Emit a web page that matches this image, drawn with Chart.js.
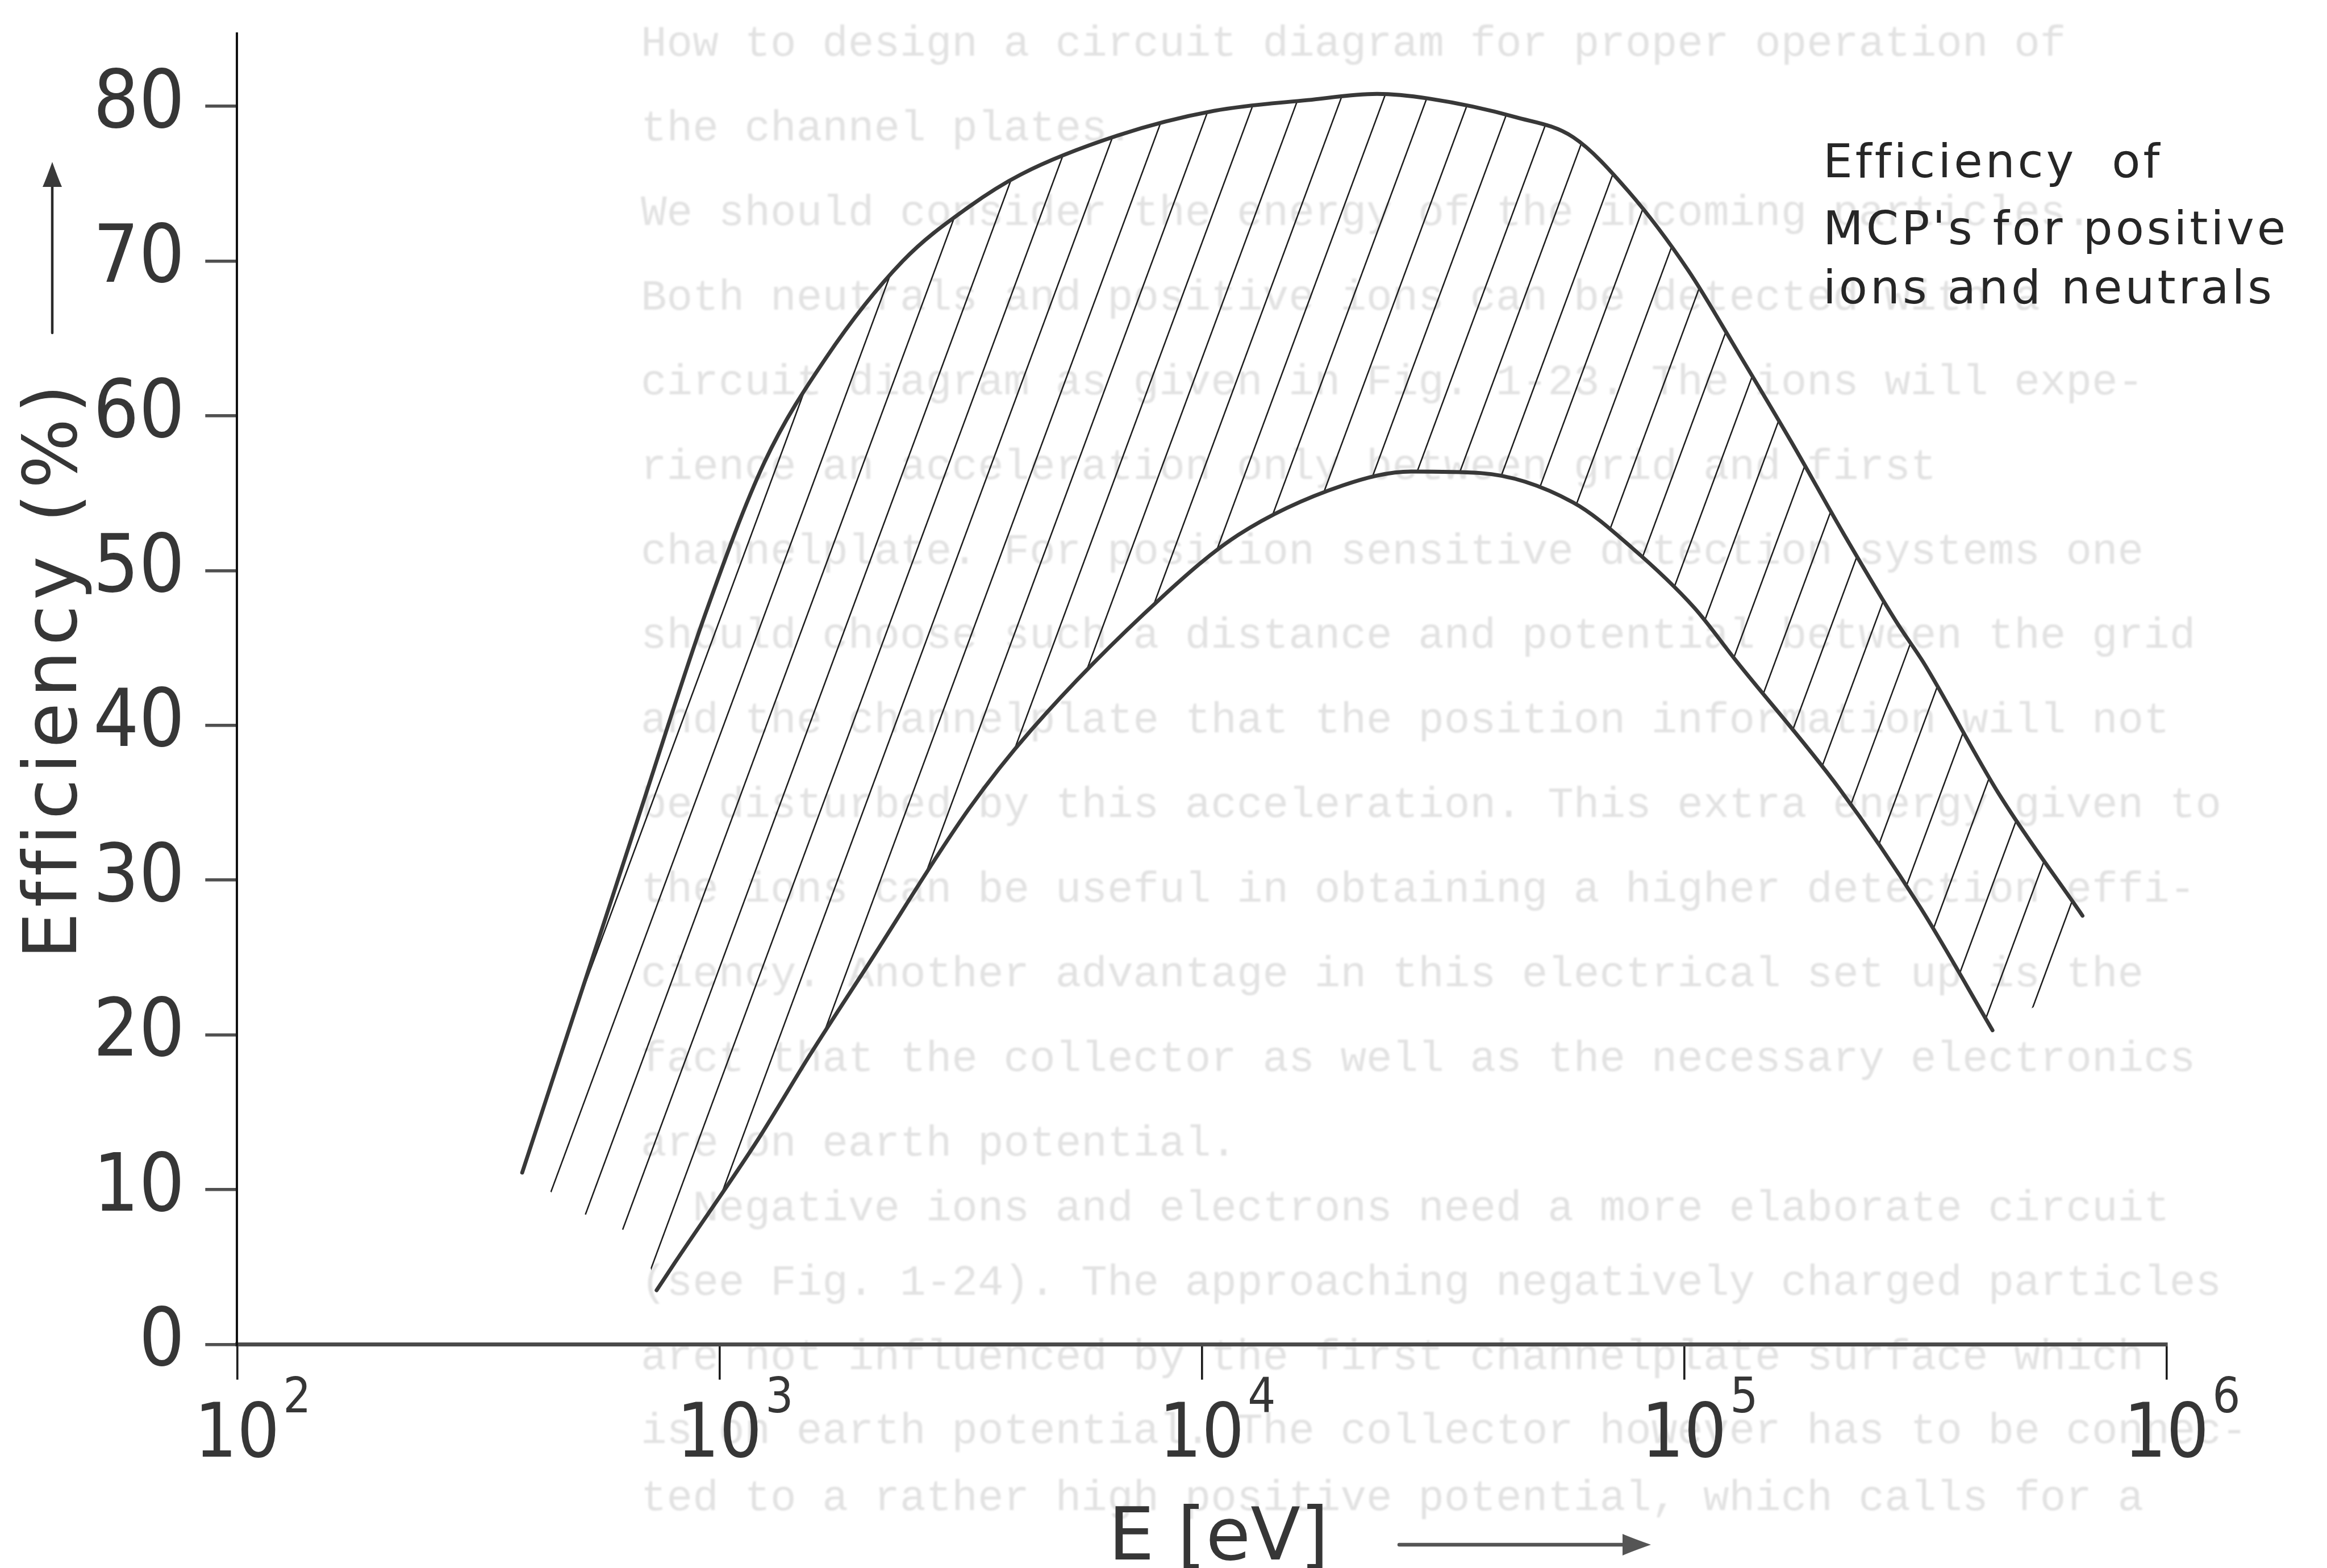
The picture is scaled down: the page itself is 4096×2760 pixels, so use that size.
<!DOCTYPE html>
<html>
<head>
<meta charset="utf-8">
<title>Efficiency of MCP's for positive ions and neutrals</title>
<script src="https://cdn.jsdelivr.net/npm/chart.js@4.4.1/dist/chart.umd.min.js"></script>
<style>
  html, body { margin: 0; padding: 0; background: #fff; overflow: hidden; }
  canvas { display: block; }
</style>
</head>
<body>
<canvas id="chart" width="4096" height="2760"></canvas>
<script>
// ---- data -------------------------------------------------------------
// Upper edge of the efficiency band: ion energy (eV) and efficiency (%)
const upperEnergy = [390, 558, 693, 935, 1240, 1660, 2400, 3290, 4220, 6680, 10600, 16600, 23100, 29500, 44700, 58900, 76700, 102000, 130000, 167000, 214000, 278000, 313000, 451000, 670000];
const upperEff    = [11.1, 25.9, 34.9, 47.2, 57.0, 63.7, 70.0, 73.5, 75.6, 78.1, 79.7, 80.4, 80.8, 80.5, 79.3, 78.0, 74.5, 69.4, 64.0, 58.3, 52.4, 46.5, 44.1, 35.5, 27.7];

// Lower edge of the efficiency band
const lowerEnergy = [741, 809, 1200, 1540, 2040, 3290, 4430, 8280, 11900, 19600, 27200, 37800, 58900, 77800, 105000, 128000, 210000, 308000, 436000];
const lowerEff    = [3.5, 5.3, 13.2, 18.7, 24.6, 34.6, 39.7, 48.3, 52.3, 55.5, 56.4, 56.3, 54.4, 51.5, 47.6, 44.2, 35.9, 28.3, 20.3];

// Open ends of the hatched band (where the hatch strokes stop)
const footEnergy = [693, 587, 490, 419];
const footEff    = [6.9, 7.8, 8.8, 10.6];
const tailEnergy = [545000];
const tailEff    = [22.0];

// Axis ticks
const yTickValues = [0, 10, 20, 30, 40, 50, 60, 70, 80];
const xTickPowers = [2, 3, 4, 5, 6];

// Text
const yTitle = 'Efficiency (%)';
const xTitle = 'E [eV]';
const noteLines = ['Efficiency  of', "MCP's for positive", 'ions and neutrals'];

// Faint typescript showing through from the page
const pageText = [
  'How to design a circuit diagram for proper operation of',
  'the channel plates.',
  'We should consider the energy of the incoming particles.',
  'Both neutrals and positive ions can be detected with a',
  'circuit diagram as given in Fig. 1-23. The ions will expe-',
  'rience an acceleration only between grid and first',
  'channelplate. For position sensitive detection systems one',
  'should choose such a distance and potential between the grid',
  'and the channelplate that the position information will not',
  'be disturbed by this acceleration. This extra energy given to',
  'the ions can be useful in obtaining a higher detection effi-',
  'ciency. Another advantage in this electrical set up is the',
  'fact that the collector as well as the necessary electronics',
  'are on earth potential.',
  '  Negative ions and electrons need a more elaborate circuit',
  '(see Fig. 1-24). The approaching negatively charged particles',
  'are not influenced by the first channelplate surface which',
  'is on earth potential. The collector however has to be connec-',
  'ted to a rather high positive potential, which calls for a'
];
const pageRowsY = [78, 227, 376, 525, 674, 823, 972, 1120, 1269, 1418, 1567, 1716, 1865, 2014, 2128, 2259, 2390, 2520, 2638];

// ---- styling ----------------------------------------------------------
const INK = '#1c1c1c';
const LABEL_INK = '#363636';
const CURVE_INK = '#383838';
const DIGIT_FONT = '"DejaVu Sans Condensed", "Liberation Sans Narrow", "DejaVu Sans", sans-serif';
const TEXT_FONT = '"DejaVu Sans", "Liberation Sans", sans-serif';

// ---- helpers ----------------------------------------------------------
function traceCurve(ctx, pts, reverse, move) {
  const list = reverse ? pts.slice().reverse() : pts;
  list.forEach((p, i) => {
    if (i === 0) {
      if (move) ctx.moveTo(p.x, p.y); else ctx.lineTo(p.x, p.y);
      return;
    }
    const q = list[i - 1];
    const hasCp = q.cp1x !== undefined && p.cp1x !== undefined;
    if (!hasCp) { ctx.lineTo(p.x, p.y); return; }
    if (reverse) ctx.bezierCurveTo(q.cp1x, q.cp1y, p.cp2x, p.cp2y, p.x, p.y);
    else ctx.bezierCurveTo(q.cp2x, q.cp2y, p.cp1x, p.cp1y, p.x, p.y);
  });
}

function arrowHead(ctx, tipX, tipY, dirX, dirY, len, half) {
  const bx = tipX - dirX * len, by = tipY - dirY * len;
  const nx = -dirY, ny = dirX;
  ctx.beginPath();
  ctx.moveTo(tipX, tipY);
  ctx.quadraticCurveTo(bx + nx * half * 0.6 + dirX * len * 0.35, by + ny * half * 0.6 + dirY * len * 0.35, bx + nx * half, by + ny * half);
  ctx.lineTo(bx - nx * half, by - ny * half);
  ctx.quadraticCurveTo(bx - nx * half * 0.6 + dirX * len * 0.35, by - ny * half * 0.6 + dirY * len * 0.35, tipX, tipY);
  ctx.closePath();
  ctx.fill();
}

// ---- plugins ----------------------------------------------------------
const paperPlugin = {
  id: 'paper',
  beforeDraw(chart) {
    const ctx = chart.ctx;
    ctx.save();
    ctx.fillStyle = '#ffffff';
    ctx.fillRect(0, 0, chart.width, chart.height);
    ctx.fillStyle = '#e2e2e2';
    ctx.font = '76px "Liberation Mono", "DejaVu Sans Mono", monospace';
    ctx.textBaseline = 'middle';
    ctx.textAlign = 'left';
    ctx.filter = 'blur(1.5px)';
    pageText.forEach((line, i) => ctx.fillText(line, 1128, pageRowsY[i]));
    ctx.restore();
  }
};

const hatchPlugin = {
  id: 'hatch',
  beforeDatasetsDraw(chart) {
    const { ctx, chartArea, scales } = chart;
    const xs = scales.x, ys = scales.y;
    const up = chart.getDatasetMeta(0), lo = chart.getDatasetMeta(1);
    [up, lo].forEach(m => {
      if (m.dataset && typeof m.dataset.updateControlPoints === 'function') {
        m.dataset.updateControlPoints(chartArea, 'x');
      }
    });
    ctx.save();
    ctx.beginPath();
    traceCurve(ctx, up.data, false, true);
    tailEnergy.forEach((e, i) => ctx.lineTo(xs.getPixelForValue(e), ys.getPixelForValue(tailEff[i])));
    traceCurve(ctx, lo.data, true, false);
    footEnergy.forEach((e, i) => ctx.lineTo(xs.getPixelForValue(e), ys.getPixelForValue(footEff[i])));
    ctx.closePath();
    ctx.clip();

    // parallel strokes, leaning right as they rise
    const anchorX = xs.getPixelForValue(1020);
    const anchorY = ys.getPixelForValue(40);
    const spacing = 75.4;
    const lean = 0.37;
    ctx.strokeStyle = INK;
    ctx.lineWidth = 2.5;
    ctx.lineCap = 'butt';
    for (let i = -12; i <= 45; i++) {
      const x0 = anchorX + i * spacing;
      const yTop = chartArea.top, yBot = chartArea.bottom;
      ctx.beginPath();
      ctx.moveTo(x0 + lean * (anchorY - yBot), yBot);
      ctx.lineTo(x0 + lean * (anchorY - yTop), yTop);
      ctx.stroke();
    }
    ctx.restore();
  }
};

const labelPlugin = {
  id: 'labels',
  afterDraw(chart) {
    const ctx = chart.ctx;
    const xs = chart.scales.x;
    ctx.save();

    // decade labels 10^n
    ctx.fillStyle = LABEL_INK;
    ctx.textBaseline = 'alphabetic';
    xTickPowers.forEach(p => {
      const cx = xs.getPixelForValue(Math.pow(10, p));
      ctx.font = '131px ' + DIGIT_FONT;
      ctx.textAlign = 'center';
      const w = ctx.measureText('10').width;
      ctx.fillText('10', cx, 2564);
      ctx.font = '86px ' + DIGIT_FONT;
      ctx.textAlign = 'left';
      ctx.fillText(String(p), cx + w / 2 + 6, 2486);
    });

    // vertical title with arrow
    ctx.save();
    ctx.translate(134, 1178);
    ctx.rotate(-Math.PI / 2);
    ctx.font = '130px ' + TEXT_FONT;
    ctx.textAlign = 'center';
    ctx.textBaseline = 'alphabetic';
    ctx.letterSpacing = '9px';
    ctx.fillStyle = LABEL_INK;
    ctx.fillText(yTitle, 0, 0);
    ctx.restore();

    ctx.strokeStyle = '#2a2a2a';
    ctx.fillStyle = '#3a3a3a';
    ctx.lineWidth = 4.5;
    ctx.lineCap = 'round';
    ctx.beginPath();
    ctx.moveTo(92, 586);
    ctx.lineTo(92, 320);
    ctx.stroke();
    arrowHead(ctx, 92, 285, 0, -1, 44, 17);

    // horizontal title with arrow
    ctx.font = '128px ' + TEXT_FONT;
    ctx.textAlign = 'left';
    ctx.textBaseline = 'alphabetic';
    ctx.fillStyle = LABEL_INK;
    ctx.fillText(xTitle, 1951, 2745);

    ctx.strokeStyle = '#555';
    ctx.fillStyle = '#555';
    ctx.lineWidth = 6.5;
    ctx.lineCap = 'round';
    ctx.beginPath();
    ctx.moveTo(2463, 2719);
    ctx.lineTo(2870, 2719);
    ctx.stroke();
    arrowHead(ctx, 2906, 2719, 1, 0, 50, 19);

    // note in the upper right
    ctx.font = '82px ' + TEXT_FONT;
    ctx.letterSpacing = '5px';
    ctx.fillStyle = '#262626';
    ctx.textAlign = 'left';
    const noteY = [312, 430, 534];
    noteLines.forEach((t, i) => ctx.fillText(t, 3209, noteY[i]));
    ctx.restore();
  }
};

// ---- chart ------------------------------------------------------------
const toPoints = (xs, ys) => xs.map((v, i) => ({ x: v, y: ys[i] }));
const curveStyle = {
  borderColor: CURVE_INK,
  borderWidth: 6.8,
  borderCapStyle: 'round',
  borderJoinStyle: 'round',
  pointRadius: 0,
  pointHoverRadius: 0,
  cubicInterpolationMode: 'monotone',
  fill: false
};

new Chart(document.getElementById('chart').getContext('2d'), {
  type: 'line',
  data: {
    datasets: [
      Object.assign({ label: 'upper', data: toPoints(upperEnergy, upperEff) }, curveStyle),
      Object.assign({ label: 'lower', data: toPoints(lowerEnergy, lowerEff) }, curveStyle)
    ]
  },
  options: {
    responsive: false,
    animation: false,
    devicePixelRatio: 1,
    layout: { padding: { left: 0, top: 59, right: 282.7, bottom: 0 } },
    plugins: { legend: { display: false }, tooltip: { enabled: false } },
    scales: {
      x: {
        type: 'logarithmic',
        min: 100,
        max: 1000000,
        afterBuildTicks: s => { s.ticks = xTickPowers.map(p => ({ value: Math.pow(10, p) })); },
        afterFit: s => { s.height = 393.5; s.paddingLeft = 0; s.paddingRight = 0; s.paddingTop = 0; s.paddingBottom = 0; },
        ticks: { display: false },
        grid: { drawOnChartArea: false, drawTicks: true, tickLength: 62, lineWidth: 3.6, color: INK, tickColor: INK },
        border: { display: true, color: '#4a4a4a', width: 7 }
      },
      y: {
        type: 'linear',
        min: 0,
        max: 84.7,
        afterBuildTicks: s => { s.ticks = yTickValues.map(v => ({ value: v })); },
        afterFit: s => { s.width = 417.3; s.paddingTop = 0; s.paddingBottom = 0; s.paddingLeft = 0; s.paddingRight = 0; },
        ticks: {
          font: { family: DIGIT_FONT, size: 141 },
          color: LABEL_INK,
          padding: 36,
          callback: v => String(v)
        },
        grid: { drawOnChartArea: false, drawTicks: true, tickLength: 56, lineWidth: 5.5, color: '#505050', tickColor: '#505050' },
        border: { display: true, color: '#111', width: 4 }
      }
    }
  },
  plugins: [paperPlugin, hatchPlugin, labelPlugin]
});
</script>
</body>
</html>
